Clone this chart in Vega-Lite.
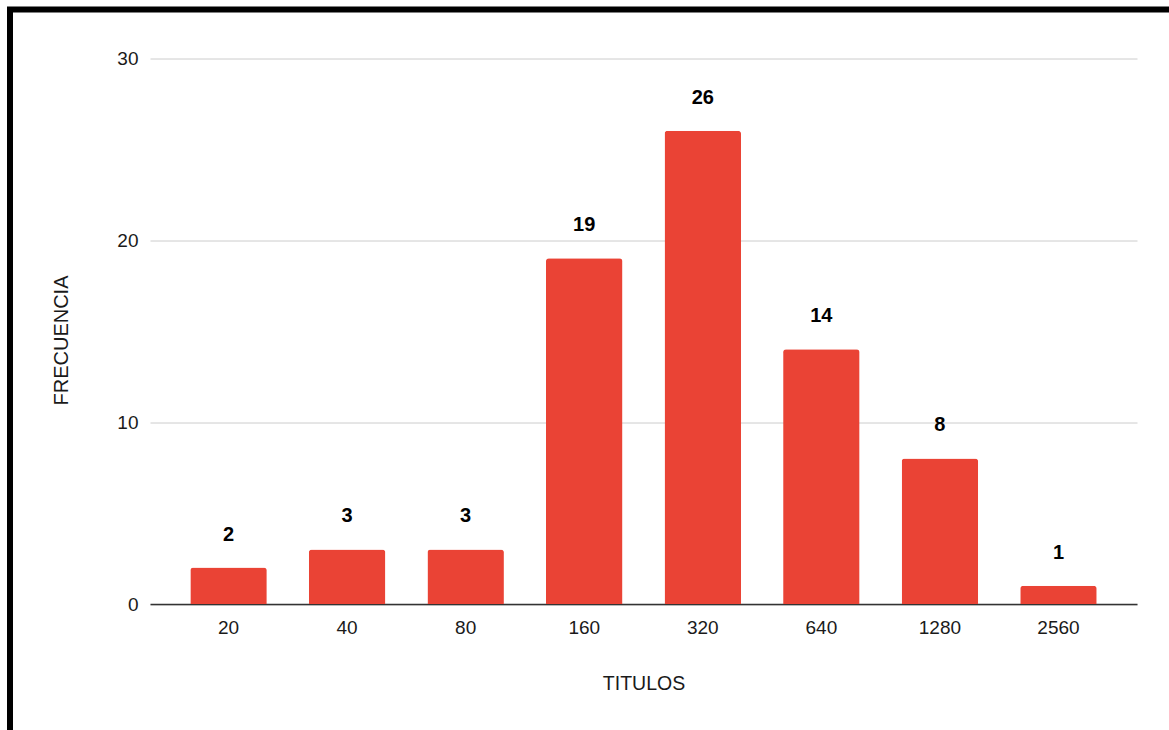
{
  "$schema": "https://vega.github.io/schema/vega-lite/v6.json",
  "width": 1159,
  "height": 720.5,
  "autosize": {"type": "none"},
  "padding": {"left": 10, "top": 9.5, "right": 0, "bottom": 0},
  "background": "#ffffff",
  "config": {
    "font": "Liberation Sans",
    "view": {
      "stroke": "#000000",
      "strokeWidth": 6,
      "strokeCap": "square",
      "strokeDash": [1159, 1879.5, 720.5, 0]
    }
  },
  "data": {
    "values": [
      {"titulos": "20", "frecuencia": 2},
      {"titulos": "40", "frecuencia": 3},
      {"titulos": "80", "frecuencia": 3},
      {"titulos": "160", "frecuencia": 19},
      {"titulos": "320", "frecuencia": 26},
      {"titulos": "640", "frecuencia": 14},
      {"titulos": "1280", "frecuencia": 8},
      {"titulos": "2560", "frecuencia": 1}
    ]
  },
  "encoding": {
    "x": {
      "field": "titulos",
      "type": "ordinal",
      "sort": null,
      "scale": {"range": [140, 1127], "paddingInner": 0.355, "paddingOuter": 0.34},
      "axis": {
        "title": "TITULOS",
        "orient": "bottom",
        "offset": -126,
        "labelAngle": 0,
        "domainColor": "#333333",
        "domainWidth": 1.5,
        "ticks": false,
        "tickSize": 0,
        "labelPadding": 14,
        "labelFontSize": 19,
        "labelColor": "#1a1a1a",
        "titleFontSize": 19.5,
        "titleFontWeight": "normal",
        "titleColor": "#1a1a1a",
        "titlePadding": 37,
        "grid": false
      }
    },
    "y": {
      "field": "frecuencia",
      "type": "quantitative",
      "scale": {"domain": [0, 30], "range": [594.5, 48.5], "nice": false},
      "axis": {
        "title": "FRECUENCIA",
        "offset": -140,
        "values": [0, 10, 20, 30],
        "domain": false,
        "ticks": false,
        "tickSize": 0,
        "labelPadding": 12,
        "labelFontSize": 19,
        "labelColor": "#1a1a1a",
        "gridColor": "#cccccc",
        "gridWidth": 1,
        "titleFontSize": 20,
        "titleFontWeight": "normal",
        "titleColor": "#1a1a1a",
        "titlePadding": 45,
        "titleY": 330.5
      }
    }
  },
  "layer": [
    {
      "mark": {
        "type": "bar",
        "color": "#EA4335",
        "cornerRadiusTopLeft": 3,
        "cornerRadiusTopRight": 3
      }
    },
    {
      "mark": {
        "type": "text",
        "dy": -27,
        "baseline": "alphabetic",
        "fontSize": 20,
        "fontWeight": "bold",
        "color": "#000000"
      },
      "encoding": {
        "text": {"field": "frecuencia", "type": "quantitative"}
      }
    }
  ]
}
